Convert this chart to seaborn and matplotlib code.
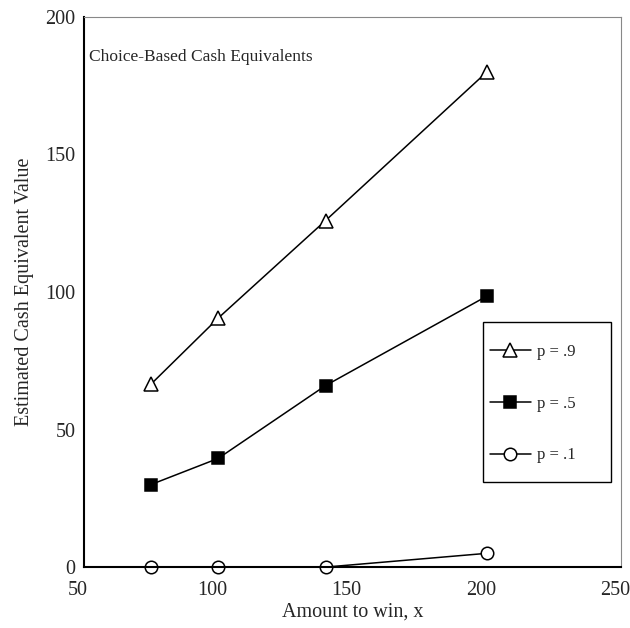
import pandas as pd
import matplotlib.pyplot as plt
import matplotlib.transforms as mtransforms
from matplotlib.patches import Rectangle
import seaborn as sns
from matplotlib.ticker import MultipleLocator

# 数据
amounts = [75, 100, 140, 200]
p9_values = [66.5, 90.5, 126, 180]
p5_values = [30, 39.5, 66, 98.5]
p1_values = [0, 0, 0, 5]
series_labels = ['p = .9', 'p = .5', 'p = .1']

df = pd.DataFrame({'x': amounts, 'p9': p9_values, 'p5': p5_values, 'p1': p1_values})

sns.set_style('white')
plt.rcParams['font.family'] = ['Liberation Serif', 'DejaVu Serif']

fig = plt.figure(figsize=(6.3, 6.28), dpi=100)
ax = fig.add_axes([0.133, 0.097, 0.853, 0.876])

# 三条线
line_kw = dict(ax=ax, color='black', lw=1.1, markeredgecolor='black',
               markeredgewidth=1.1, clip_on=False)
sns.lineplot(data=df, x='x', y='p9', marker='^', markersize=10,
             markerfacecolor='white', label=series_labels[0], **line_kw)
sns.lineplot(data=df, x='x', y='p5', marker='s', markersize=9,
             markerfacecolor='black', label=series_labels[1], **line_kw)
sns.lineplot(data=df, x='x', y='p1', marker='o', markersize=9,
             markerfacecolor='white', label=series_labels[2], **line_kw)

# 坐标轴
ax.set_xlim(50, 250)
ax.set_ylim(0, 200)
ax.xaxis.set_major_locator(MultipleLocator(50))
ax.xaxis.set_minor_locator(MultipleLocator(25))
ax.yaxis.set_major_locator(MultipleLocator(50))
ax.yaxis.set_minor_locator(MultipleLocator(25))
ax.tick_params(which='both', direction='in', length=5, width=1.2, color='black',
               labelsize=14.5)
ax.tick_params(axis='x', pad=10)
ax.tick_params(axis='y', pad=6)
ax.set_xlabel('Amount to win, x', fontsize=14.5, labelpad=2)
ax.set_ylabel('Estimated Cash Equivalent Value', fontsize=14.5, labelpad=8)

# x刻度标签稍微左移
shift = mtransforms.ScaledTranslation(-6 / 100, 0, fig.dpi_scale_trans)
for lab in ax.get_xticklabels():
    lab.set_transform(lab.get_transform() + shift)

for side in ['left', 'bottom']:
    ax.spines[side].set_color('black')
    ax.spines[side].set_linewidth(1.5)
for side in ['top', 'right']:
    ax.spines[side].set_color('#888888')
    ax.spines[side].set_linewidth(0.8)

ax.text(0.01, 0.928, 'Choice-Based Cash Equivalents', transform=ax.transAxes,
        fontsize=12.5, va='center', ha='left')

# 图例（边框单独画）
ax.add_patch(Rectangle((0.743, 0.155), 0.238, 0.29, transform=ax.transAxes,
                       fill=False, edgecolor='black', lw=1.0, zorder=5))
leg = ax.legend(loc='upper left', bbox_to_anchor=(0.756, 0.406), fontsize=12,
                frameon=False, handlelength=2.45, handletextpad=0.36,
                labelspacing=2.15, borderpad=0, borderaxespad=0)

plt.savefig('out.png', dpi=100)
